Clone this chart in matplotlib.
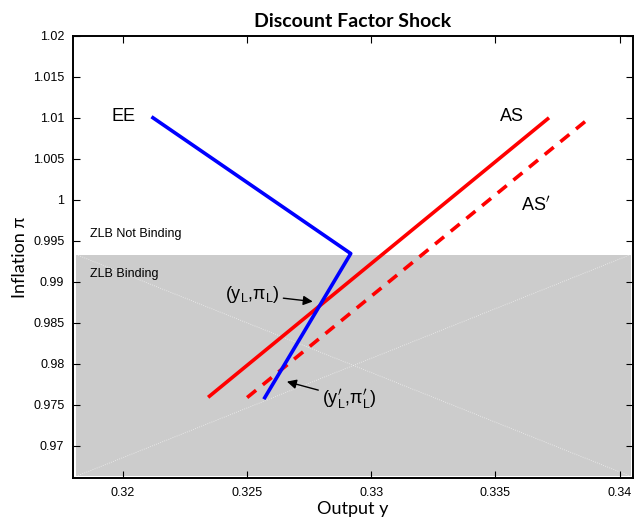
import matplotlib
matplotlib.use("Agg")
import matplotlib.pyplot as plt
from matplotlib.patches import Rectangle

# curves
ee_y = [0.32122, 0.32918, 0.32572]
ee_pi = [1.0100, 0.99345, 0.97589]
as_y = [0.32344, 0.33716]
as_pi = [0.97593, 1.01000]
as2_y = [0.32501, 0.33880]
as2_pi = [0.97590, 1.01000]

zlb_pi = 0.99333
x_ticks = [0.32, 0.325, 0.33, 0.335, 0.34]
x_ticklabels = ["0.32", "0.325", "0.33", "0.335", "0.34"]
y_ticks = [0.97, 0.975, 0.98, 0.985, 0.99, 0.995, 1.0, 1.005, 1.01, 1.015, 1.02]
y_ticklabels = ["0.97", "0.975", "0.98", "0.985", "0.99", "0.995", "1",
                "1.005", "1.01", "1.015", "1.02"]

plt.rcParams["font.family"] = ["Liberation Sans", "DejaVu Sans"]

fig = plt.figure(figsize=(6.44, 5.23), dpi=100)
ax = fig.add_axes([0.1129, 0.0855, 0.870, 0.8462])
xlim = (0.31799, 0.34054)
ylim = (0.96606, 1.02)
ax.set_xlim(*xlim)
ax.set_ylim(*ylim)

# ZLB binding region
gx0, gx1 = 0.31813, 0.34045
gy0 = 0.96630
ax.add_patch(Rectangle((gx0, gy0), gx1 - gx0, zlb_pi - gy0,
                       facecolor="#cccccc", edgecolor="none", zorder=0))
ax.plot([gx0, gx1], [zlb_pi, gy0], color="white", lw=0.6, ls=":", alpha=0.7, zorder=1)
ax.plot([gx0, gx1], [gy0, zlb_pi], color="white", lw=0.6, ls=":", alpha=0.7, zorder=1)

ax.plot(as_y, as_pi, color="#ff0000", lw=2.6, solid_capstyle="butt", zorder=3)
ax.plot(as2_y, as2_pi, color="#ff0000", lw=2.6, ls=(0, (3.2, 2.4)), zorder=3)
ax.plot(ee_y, ee_pi, color="#0000ff", lw=2.6, zorder=4)

ax.text(0.32005, 1.0101, "EE", fontsize=13, va="center", ha="center")
ax.text(0.33566, 1.0101, "AS", fontsize=13, va="center", ha="center")
ax.text(0.33662, 0.99935, "AS$^{\\prime}$", fontsize=13, va="center", ha="center")
ax.text(0.31870, 0.99588, "ZLB Not Binding", fontsize=9, va="center", ha="left")
ax.text(0.31870, 0.99096, "ZLB Binding", fontsize=9, va="center", ha="left")

ax.annotate("(y$_\\mathregular{L}$,\u03c0$_\\mathregular{L}$)", xy=(0.32765, 0.98760),
            xytext=(0.32520, 0.98845), fontsize=13, ha="center", va="center",
            arrowprops=dict(arrowstyle="-|>", color="black", lw=1.0,
                            mutation_scale=14, shrinkA=1, shrinkB=0))
ax.annotate("(y$^{\\prime}_\\mathregular{L}$,\u03c0$^{\\prime}_\\mathregular{L}$)",
            xy=(0.32661, 0.97784), xytext=(0.32914, 0.97577), fontsize=13,
            ha="center", va="center",
            arrowprops=dict(arrowstyle="-|>", color="black", lw=1.0,
                            mutation_scale=14, shrinkA=1, shrinkB=0))

ax.set_xticks(x_ticks)
ax.set_xticklabels(x_ticklabels)
ax.set_yticks(y_ticks)
ax.set_yticklabels(y_ticklabels)
ax.tick_params(direction="in", top=True, right=True, length=5, width=0.8,
               labelsize=9, pad=6)
for s in ax.spines.values():
    s.set_linewidth(1.4)

ax.set_xlabel("Output y", fontsize=13, family=["Lato", "DejaVu Sans"], labelpad=2)
ax.set_ylabel("Inflation \u03c0", fontsize=13, family=["Lato", "DejaVu Sans"], labelpad=4)
ax.set_title("Discount Factor Shock", fontsize=14, fontweight="bold",
             family=["Lato", "DejaVu Sans"], pad=6)

fig.savefig("out.png", dpi=100)
